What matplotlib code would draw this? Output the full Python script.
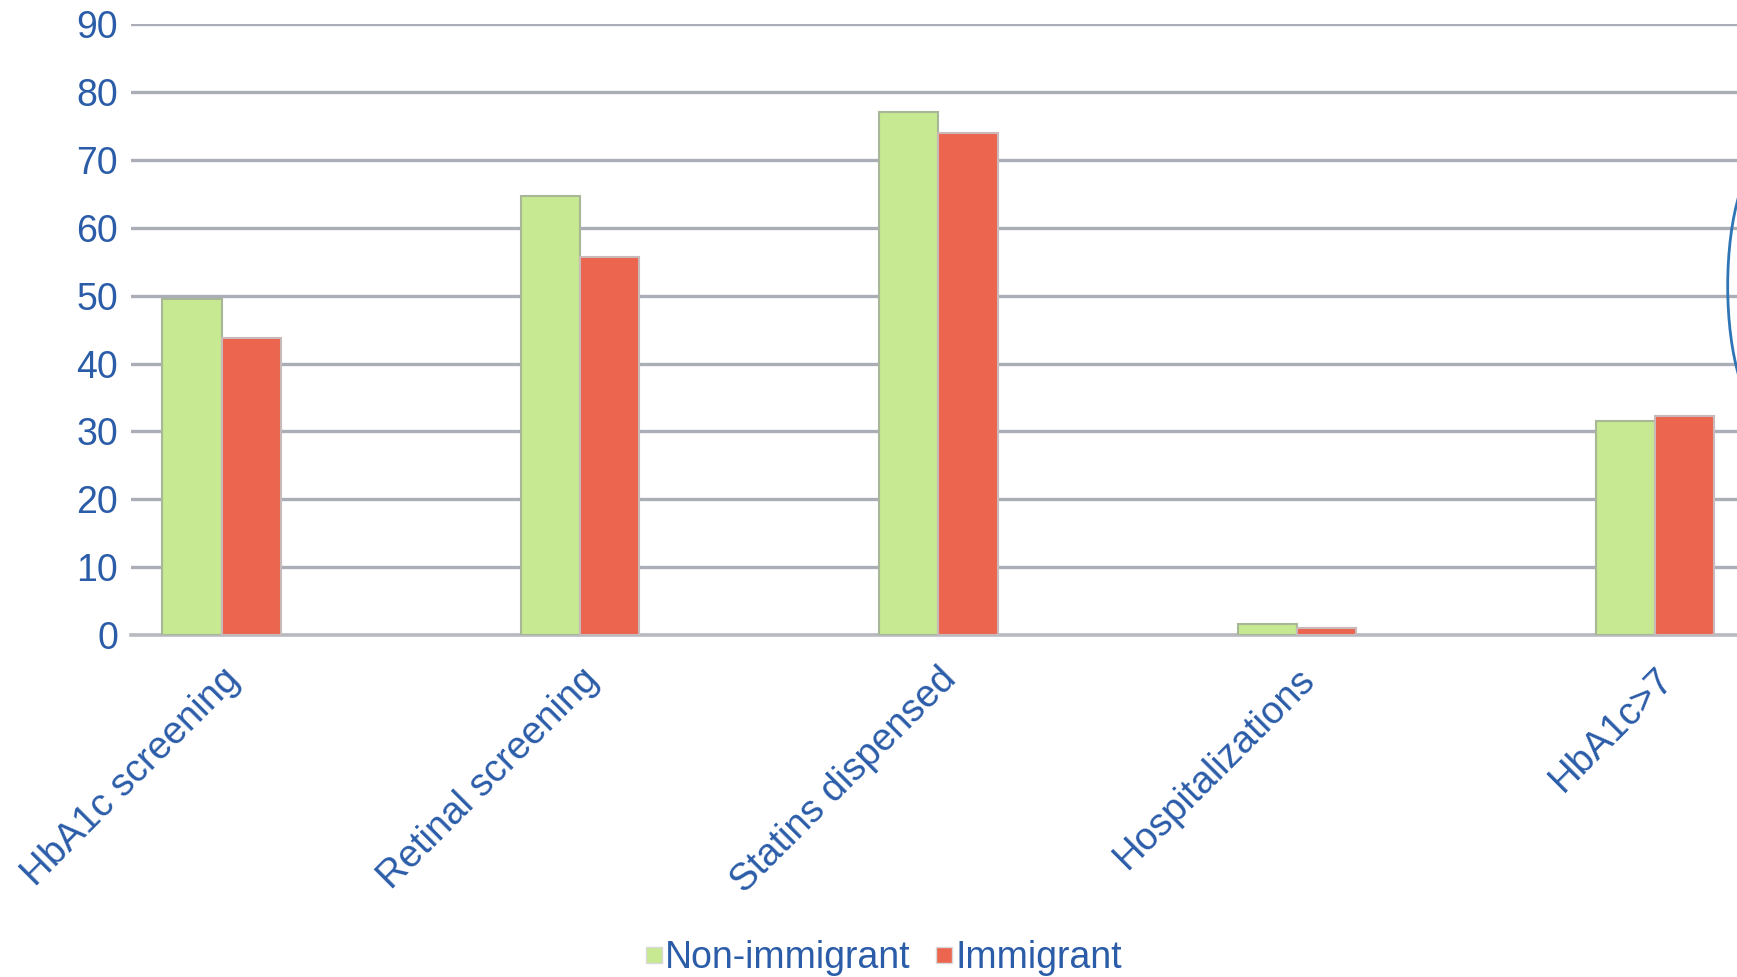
import matplotlib
matplotlib.use("Agg")
import matplotlib.pyplot as plt
import numpy as np
from matplotlib.lines import Line2D
from matplotlib.patches import Ellipse

categories = ["HbA1c screening", "Retinal screening", "Statins dispensed", "Hospitalizations", "HbA1c>7"]
non_immigrant = [49.5, 64.7, 77.1, 1.6, 31.5]
immigrant = [43.8, 55.7, 74.0, 1.05, 32.2]
yticks = [0, 10, 20, 30, 40, 50, 60, 70, 80, 90]

plt.rcParams['font.family'] = ['Liberation Sans', 'DejaVu Sans']

W, H = 1737, 977
fig = plt.figure(figsize=(W / 100, H / 100), dpi=100)
left = 130.7 / W
bottom = (H - 634.8) / H
top = (H - 24.4) / H
ax = fig.add_axes([left, bottom, 1.0 - left, top - bottom])

txt_color = '#2B5CA8'
green = '#C7E991'
red = '#EB654F'
bw = 0.165
x = np.arange(len(categories))

ax.bar(x - bw / 2, non_immigrant, width=bw, color=green, edgecolor='#A9B799', linewidth=1.5, zorder=3)
ax.bar(x + bw / 2, immigrant, width=bw, color=red, edgecolor='#C9B9B9', linewidth=1.5, zorder=3)

ax.set_ylim(0, 90)
ax.set_xlim(-0.2536, 4.228)
ax.set_yticks(yticks)
ax.yaxis.grid(True, color='#ABAEB7', linewidth=2.4, zorder=0)
ax.set_axisbelow(True)
for s in ['top', 'right', 'left']:
    ax.spines[s].set_visible(False)
ax.spines['bottom'].set_color('#B8BAC0')
ax.spines['bottom'].set_linewidth(2.6)
ax.spines['bottom'].set_zorder(2)
ax.tick_params(axis='both', length=0, colors=txt_color)
ax.tick_params(axis='y', pad=9, labelsize=27)
ax.set_xticks(x)
ax.set_xticklabels(categories, rotation=45, ha='right', va='top', rotation_mode='anchor', fontsize=27.5)
ax.tick_params(axis='x', pad=19)
for lbl in ax.get_xticklabels():
    lbl.set_color(txt_color)

handles = [
    Line2D([], [], marker='s', linestyle='none', markersize=12, markerfacecolor=green, markeredgecolor='#D8D8D8', markeredgewidth=1),
    Line2D([], [], marker='s', linestyle='none', markersize=12, markerfacecolor=red, markeredgecolor='#D8D8D8', markeredgewidth=1),
]
leg = fig.legend(handles, ['Non-immigrant', 'Immigrant'], loc='center', bbox_to_anchor=(0.508, 0.019),
                 ncol=2, frameon=False, fontsize=27, handlelength=0.6, handletextpad=0.0,
                 columnspacing=0.6, borderpad=0)
for t in leg.get_texts():
    t.set_color(txt_color)

a, b = 40, 130
ell = Ellipse((1727.7 + a, H - 286), 2 * a, 2 * b, fill=False, edgecolor='#2E75B6', linewidth=2.0,
              transform=None, clip_on=False)
fig.patches.append(ell)

fig.savefig('out.png', dpi=100)
